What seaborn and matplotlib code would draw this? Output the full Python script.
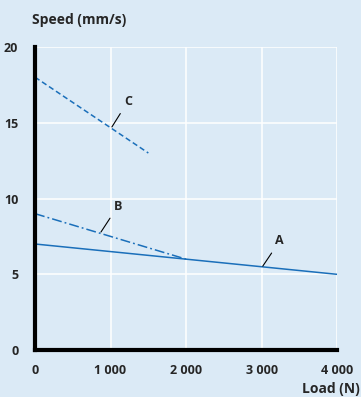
import matplotlib
matplotlib.use("Agg")
import matplotlib.pyplot as plt
import seaborn as sns
import pandas as pd

# Daten
load_a = [0, 4000]
speed_a = [7, 5]
load_b = [0, 2000]
speed_b = [9, 6]
load_c = [0, 1500]
speed_c = [18, 13]

x_ticks = [0, 1000, 2000, 3000, 4000]
x_labels = ["0", "1 000", "2 000", "3 000", "4 000"]
y_ticks = [0, 5, 10, 15, 20]

# Beschriftungen: Punkt auf der Kurve und Textposition
labels = ["A", "B", "C"]
label_points = [(3015, 5.54), (873, 7.79), (1018, 14.72)]
label_texts = [(3240, 7.2), (1098, 9.5), (1230, 16.4)]

bg = "#dbeaf6"
blue = "#1a6fba"

sns.set_style("white")
plt.rcParams["font.family"] = ["Open Sans", "DejaVu Sans"]

fig = plt.figure(figsize=(3.61, 3.97), dpi=100, facecolor=bg)
ax = fig.add_axes([0.097, 0.118, 0.837, 0.764])
ax.set_facecolor(bg)

df = pd.concat([
    pd.DataFrame({"Load": load_a, "Speed": speed_a, "Kurve": "A"}),
    pd.DataFrame({"Load": load_b, "Speed": speed_b, "Kurve": "B"}),
    pd.DataFrame({"Load": load_c, "Speed": speed_c, "Kurve": "C"}),
])

styles = {"A": "-", "B": (0, (6.5, 2, 1.2, 2)), "C": (0, (3.5, 2))}
for name, grp in df.groupby("Kurve"):
    sns.lineplot(data=grp, x="Load", y="Speed", ax=ax, color=blue,
                 linewidth=1.1, linestyle=styles[name], legend=False)

for lab, (px, py), (tx, ty) in zip(labels, label_points, label_texts):
    ax.annotate(lab, xy=(px, py), xytext=(tx, ty), fontsize=9, fontweight="bold",
                ha="center", va="center",
                arrowprops=dict(arrowstyle="-", color="black", lw=0.8, shrinkA=2, shrinkB=0))

ax.set_xlim(0, 4000)
ax.set_ylim(0, 20)
ax.set_xticks(x_ticks)
ax.set_xticklabels(x_labels)
ax.set_yticks(y_ticks)
ax.grid(True, color="white", linewidth=1.1)
ax.set_axisbelow(True)
for s in ["top", "right"]:
    ax.spines[s].set_visible(False)
for s in ["left", "bottom"]:
    ax.spines[s].set_color("black")
    ax.spines[s].set_linewidth(3)
ax.tick_params(length=0, labelsize=9, pad=10)
ax.tick_params(axis="y", pad=12)
for t in ax.get_xticklabels() + ax.get_yticklabels():
    t.set_fontweight("bold")
ax.set_xlabel("")
ax.set_ylabel("")

fig.text(32 / 361, 1 - 20 / 397, "Speed (mm/s)", fontsize=10, fontweight="bold", va="center", ha="left")
fig.text(360 / 361, 1 - 389 / 397, "Load (N)", fontsize=10, fontweight="bold", va="center", ha="right")

fig.savefig("out.png", dpi=100, facecolor=bg)
